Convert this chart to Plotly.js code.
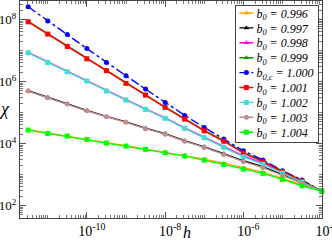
<!DOCTYPE html>
<html>
<head>
<meta charset="utf-8">
<script src="https://cdn.plot.ly/plotly-3.0.1.min.js"></script>
<style>html,body{margin:0;padding:0;background:#fff;}#chart{width:332px;height:240px;}</style>
</head>
<body>
<div id="chart"></div>
<script>
// field h (x) values
const h = [3.16e-12, 1e-11, 3.16e-11, 1e-10, 3.16e-10, 1e-9, 3.16e-9, 1e-8,
           3.16e-8, 1e-7, 3.16e-7, 1e-6, 3.16e-6, 1e-5, 3.16e-5, 1e-4];

// susceptibility chi for each b0
const chi_0996 = [2.79e4, 2.18e4, 1.79e4, 1.40e4, 1.07e4, 8.61e3, 6.79e3, 5.31e3, 4.22e3, 3.16e3, 2.34e3, 1.68e3, 1.20e3, 759, 462, 299];
const chi_0997 = [5.06e5, 3.07e5, 1.93e5, 1.17e5, 7.55e4, 5.01e4, 3.13e4, 2.10e4, 1.24e4, 7.89e3, 4.73e3, 2.79e3, 1.80e3, 989, 537, 299];
const chi_0998 = [8.71e6, 4.27e6, 2.12e6, 1.06e6, 5.08e5, 2.60e5, 1.31e5, 6.73e4, 3.21e4, 1.61e4, 7.94e3, 3.98e3, 2.32e3, 1.17e3, 592, 296];
const chi_0999 = [8.71e7, 3.49e7, 1.40e7, 5.57e6, 2.31e6, 8.97e5, 3.77e5, 1.51e5, 6.35e4, 2.68e4, 1.24e4, 5.20e3, 2.70e3, 1.32e3, 640, 296];
const chi_1000 = [2.59e8, 8.95e7, 3.28e7, 1.16e7, 4.10e6, 1.54e6, 5.73e5, 2.13e5, 8.13e4, 3.33e4, 1.40e4, 5.86e3, 2.94e3, 1.33e3, 665, 294];
const chi_1001 = [8.49e7, 3.40e7, 1.36e7, 5.43e6, 2.25e6, 8.75e5, 3.67e5, 1.47e5, 6.17e4, 2.59e4, 1.19e4, 4.94e3, 2.62e3, 1.25e3, 617, 294];
const chi_1002 = [8.49e6, 4.16e6, 2.07e6, 1.04e6, 4.94e5, 2.53e5, 1.27e5, 6.50e4, 3.09e4, 1.54e4, 7.53e3, 3.75e3, 2.18e3, 1.12e3, 573, 294];
const chi_1003 = [4.94e5, 3.00e5, 1.88e5, 1.14e5, 7.33e4, 4.86e4, 3.03e4, 2.02e4, 1.19e4, 7.53e3, 4.49e3, 2.62e3, 1.68e3, 929, 513, 294];
const chi_1004 = [2.72e4, 2.13e4, 1.75e4, 1.36e4, 1.04e4, 8.30e3, 6.50e3, 5.05e3, 3.95e3, 2.94e3, 2.13e3, 1.50e3, 1.09e3, 700, 436, 294];

const seriesNames = [
  "<i>b</i><sub><i>0</i></sub><i> = 0.996</i>",
  "<i>b</i><sub><i>0</i></sub><i> = 0.997</i>",
  "<i>b</i><sub><i>0</i></sub><i> = 0.998</i>",
  "<i>b</i><sub><i>0</i></sub><i> = 0.999</i>",
  "<i>b</i><sub><i>0,c</i></sub><i> = 1.000</i>",
  "<i>b</i><sub><i>0</i></sub><i> = 1.001</i>",
  "<i>b</i><sub><i>0</i></sub><i> = 1.002</i>",
  "<i>b</i><sub><i>0</i></sub><i> = 1.003</i>",
  "<i>b</i><sub><i>0</i></sub><i> = 1.004</i>"
];
const seriesData = [chi_0996, chi_0997, chi_0998, chi_0999, chi_1000, chi_1001, chi_1002, chi_1003, chi_1004];
const colors = ["#FFA500", "#000000", "#FF00FF", "#009900", "#0000FF", "#FF0000", "#40E0D0", "#BC8F8F", "#00FF00"];
const symbols = ["triangle-up", "triangle-up", "triangle-up", "triangle-up", "circle", "square", "square", "circle", "square"];
const dashes = ["solid", "solid", "solid", "solid", "dashdot", "solid", "solid", "solid", "solid"];

const xTickVals = [1e-10, 1e-8, 1e-6, 1e-4];
const xTickText = ["10<sup>-10</sup>", "10<sup>-8</sup>", "10<sup>-6</sup>", "10<sup>-4</sup>"];
const yTickVals = [1e2, 1e4, 1e6, 1e8];
const yTickText = ["10<sup>2</sup>", "10<sup>4</sup>", "10<sup>6</sup>", "10<sup>8</sup>"];

const traces = seriesData.map((y, i) => ({
  x: h, y: y, type: "scatter", mode: "lines+markers",
  name: seriesNames[i],
  line: {color: colors[i], width: 1.4, dash: dashes[i]},
  marker: {color: colors[i], symbol: symbols[i], size: 5},
  cliponaxis: false
}));

const serif = "Liberation Serif, Times New Roman, serif";
const axisCommon = {
  type: "log", showgrid: false, zeroline: false, automargin: false,
  showline: true, linecolor: "#444", linewidth: 1.2, mirror: "allticks",
  ticks: "inside", ticklen: 6, tickcolor: "#555", tickwidth: 1,
  tickmode: "array", ticklabeloverflow: "allow",
  minor: {ticks: "inside", ticklen: 3, tickcolor: "#777", dtick: "D1", showgrid: false}
};

const layout = {
  width: 332, height: 240,
  margin: {l: 20, r: 10, t: 1, b: 22, autoexpand: false},
  paper_bgcolor: "#fff", plot_bgcolor: "#fff",
  showlegend: true,
  xaxis: Object.assign({}, axisCommon, {range: [-11.71, -3.99], tickvals: xTickVals, ticktext: xTickText,
    tickfont: {family: serif, size: 14, color: "#000"}, ticklabelshift: 5}),
  yaxis: Object.assign({}, axisCommon, {range: [1.6, 8.6], tickvals: yTickVals, ticktext: yTickText,
    tickfont: {family: serif, size: 13, color: "#000"}, ticklabelstandoff: 0}),
  legend: {
    x: 0.98, xanchor: "right", y: 0.98, yanchor: "top",
    bgcolor: "#fff", bordercolor: "#444", borderwidth: 1,
    font: {family: serif, size: 12, color: "#000"},
    tracegroupgap: 0
  },
  annotations: [
    {text: "<i>χ</i>", xref: "paper", yref: "paper", x: -0.05, y: 0.502, xanchor: "center", yanchor: "middle",
     showarrow: false, font: {family: serif, size: 18, color: "#000"}},
    {text: "<i>h</i>", xref: "paper", yref: "paper", x: 0.553, y: -0.066, xanchor: "center", yanchor: "middle",
     showarrow: false, font: {family: serif, size: 16, color: "#000"}}
  ]
};

Plotly.newPlot("chart", traces, layout, {displayModeBar: false, staticPlot: true}).then(function (gd) {
  // compact the library's legend to match the reference's tight rows and short symbols
  const leg = gd.querySelector("g.legend");
  if (!leg) return;
  const items = leg.querySelectorAll("g.traces");
  const first = 8.5, step = 14.9;
  let maxW = 0;
  items.forEach(function (g, i) {
    g.setAttribute("transform", "translate(1," + (first + step * i) + ")");
    g.querySelectorAll(".legendlines path").forEach(function (p) { p.setAttribute("d", "M3,0h14"); });
    g.querySelectorAll(".legendpoints path").forEach(function (p) { p.setAttribute("transform", "translate(10,0)"); });
    const txt = g.querySelector("text.legendtext");
    if (txt) { txt.setAttribute("x", 20); maxW = Math.max(maxW, txt.getBBox().width); }
  });
  const W = 20 + maxW + 5, H = first * 2 + step * 8 + 1;
  const bg = leg.querySelector("rect.bg");
  if (bg) { bg.setAttribute("width", W); bg.setAttribute("height", H); }
  leg.setAttribute("transform", "translate(" + (317.5 - W) + ",4.5)");
});
</script>
</body>
</html>
